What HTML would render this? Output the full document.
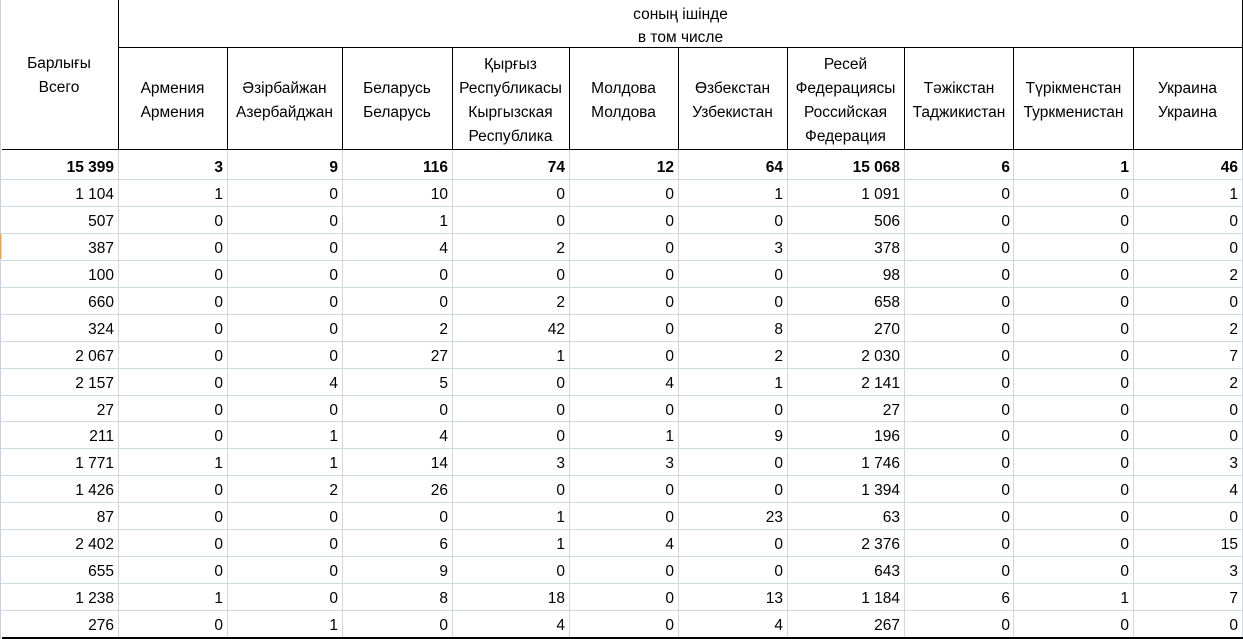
<!DOCTYPE html>
<html>
<head>
<meta charset="utf-8">
<style>
  html,body{margin:0;padding:0;background:#fff;}
  body{width:1243px;height:639px;position:relative;overflow:hidden;font-family:"Liberation Sans","DejaVu Sans",sans-serif;font-size:15.5px;color:#000;}
  .hc{position:absolute;display:flex;align-items:center;justify-content:center;text-align:center;line-height:24px;}
  .row{position:absolute;left:0;width:1243px;display:grid;grid-template-columns:118px 109px 115px 110px 117px 109px 109px 117px 110px 119px 109px;}
  .row div{text-align:right;padding-right:4px;box-sizing:border-box;white-space:nowrap;}
  .b{font-weight:bold;}
  svg{position:absolute;left:0;top:0;}
</style>
</head>
<body>
<svg width="1243" height="639" shape-rendering="crispEdges">
  <line x1="0.5" y1="0" x2="0.5" y2="639" stroke="#c6d0e2" stroke-width="1"/>
  <line x1="0.5" y1="233" x2="0.5" y2="259" stroke="#f2a541" stroke-width="2"/>
  <g stroke="#d0d7e5" stroke-width="1">
    <line x1="118.5" y1="149" x2="118.5" y2="637"/>
    <line x1="227.5" y1="149" x2="227.5" y2="637"/>
    <line x1="342.5" y1="149" x2="342.5" y2="637"/>
    <line x1="452.5" y1="149" x2="452.5" y2="637"/>
    <line x1="569.5" y1="149" x2="569.5" y2="637"/>
    <line x1="678.5" y1="149" x2="678.5" y2="637"/>
    <line x1="787.5" y1="149" x2="787.5" y2="637"/>
    <line x1="904.5" y1="149" x2="904.5" y2="637"/>
    <line x1="1013.5" y1="149" x2="1013.5" y2="637"/>
    <line x1="1133.5" y1="149" x2="1133.5" y2="637"/>
    <line x1="1242.5" y1="149" x2="1242.5" y2="637"/>
    <line x1="0" y1="179.5" x2="1243" y2="179.5"/>
    <line x1="0" y1="206.5" x2="1243" y2="206.5"/>
    <line x1="0" y1="233.5" x2="1243" y2="233.5"/>
    <line x1="0" y1="260.5" x2="1243" y2="260.5"/>
    <line x1="0" y1="287.5" x2="1243" y2="287.5"/>
    <line x1="0" y1="314.5" x2="1243" y2="314.5"/>
    <line x1="0" y1="341.5" x2="1243" y2="341.5"/>
    <line x1="0" y1="368.5" x2="1243" y2="368.5"/>
    <line x1="0" y1="395.5" x2="1243" y2="395.5"/>
    <line x1="0" y1="421.5" x2="1243" y2="421.5"/>
    <line x1="0" y1="448.5" x2="1243" y2="448.5"/>
    <line x1="0" y1="475.5" x2="1243" y2="475.5"/>
    <line x1="0" y1="502.5" x2="1243" y2="502.5"/>
    <line x1="0" y1="529.5" x2="1243" y2="529.5"/>
    <line x1="0" y1="556.5" x2="1243" y2="556.5"/>
    <line x1="0" y1="583.5" x2="1243" y2="583.5"/>
    <line x1="0" y1="610.5" x2="1243" y2="610.5"/>
  </g>
  <g stroke="#000" stroke-width="1">
    <line x1="118.5" y1="0" x2="118.5" y2="150"/>
    <line x1="1242.5" y1="0" x2="1242.5" y2="150"/>
    <line x1="118" y1="47.5" x2="1243" y2="47.5"/>
    <line x1="2" y1="149.5" x2="1243" y2="149.5"/>
    <line x1="227.5" y1="47" x2="227.5" y2="150"/>
    <line x1="342.5" y1="47" x2="342.5" y2="150"/>
    <line x1="452.5" y1="47" x2="452.5" y2="150"/>
    <line x1="569.5" y1="47" x2="569.5" y2="150"/>
    <line x1="678.5" y1="47" x2="678.5" y2="150"/>
    <line x1="787.5" y1="47" x2="787.5" y2="150"/>
    <line x1="904.5" y1="47" x2="904.5" y2="150"/>
    <line x1="1013.5" y1="47" x2="1013.5" y2="150"/>
    <line x1="1133.5" y1="47" x2="1133.5" y2="150"/>
  </g>
  <line x1="2" y1="638" x2="1243" y2="638" stroke="#000" stroke-width="2"/>
</svg>

<div class="hc" style="left:0;top:1px;width:118px;height:149px;">Барлығы<br>Всего</div>
<div class="hc" style="left:118px;top:3px;width:1125px;height:45px;line-height:23px;">соның ішінде<br>в том числе</div>
<div class="hc" style="left:118px;top:50px;width:109px;height:101px;">Армения<br>Армения</div>
<div class="hc" style="left:227px;top:50px;width:115px;height:101px;">Әзірбайжан<br>Азербайджан</div>
<div class="hc" style="left:342px;top:50px;width:110px;height:101px;">Беларусь<br>Беларусь</div>
<div class="hc" style="left:452px;top:50px;width:117px;height:101px;">Қырғыз<br>Республикасы<br>Кыргызская<br>Республика</div>
<div class="hc" style="left:569px;top:50px;width:109px;height:101px;">Молдова<br>Молдова</div>
<div class="hc" style="left:678px;top:50px;width:109px;height:101px;">Өзбекстан<br>Узбекистан</div>
<div class="hc" style="left:787px;top:50px;width:117px;height:101px;">Ресей<br>Федерациясы<br>Российская<br>Федерация</div>
<div class="hc" style="left:904px;top:50px;width:110px;height:101px;">Тәжікстан<br>Таджикистан</div>
<div class="hc" style="left:1014px;top:50px;width:119px;height:101px;">Түрікменстан<br>Туркменистан</div>
<div class="hc" style="left:1133px;top:50px;width:109px;height:101px;">Украина<br>Украина</div>

<div class="row b" style="top:154px;line-height:28px;"><div>15 399</div><div>3</div><div>9</div><div>116</div><div>74</div><div>12</div><div>64</div><div>15 068</div><div>6</div><div>1</div><div>46</div></div>
<div class="row" style="top:181px;line-height:27px;"><div>1 104</div><div>1</div><div>0</div><div>10</div><div>0</div><div>0</div><div>1</div><div>1 091</div><div>0</div><div>0</div><div>1</div></div>
<div class="row" style="top:208px;line-height:27px;"><div>507</div><div>0</div><div>0</div><div>1</div><div>0</div><div>0</div><div>0</div><div>506</div><div>0</div><div>0</div><div>0</div></div>
<div class="row" style="top:235px;line-height:27px;"><div>387</div><div>0</div><div>0</div><div>4</div><div>2</div><div>0</div><div>3</div><div>378</div><div>0</div><div>0</div><div>0</div></div>
<div class="row" style="top:262px;line-height:27px;"><div>100</div><div>0</div><div>0</div><div>0</div><div>0</div><div>0</div><div>0</div><div>98</div><div>0</div><div>0</div><div>2</div></div>
<div class="row" style="top:289px;line-height:27px;"><div>660</div><div>0</div><div>0</div><div>0</div><div>2</div><div>0</div><div>0</div><div>658</div><div>0</div><div>0</div><div>0</div></div>
<div class="row" style="top:316px;line-height:27px;"><div>324</div><div>0</div><div>0</div><div>2</div><div>42</div><div>0</div><div>8</div><div>270</div><div>0</div><div>0</div><div>2</div></div>
<div class="row" style="top:343px;line-height:27px;"><div>2 067</div><div>0</div><div>0</div><div>27</div><div>1</div><div>0</div><div>2</div><div>2 030</div><div>0</div><div>0</div><div>7</div></div>
<div class="row" style="top:370px;line-height:27px;"><div>2 157</div><div>0</div><div>4</div><div>5</div><div>0</div><div>4</div><div>1</div><div>2 141</div><div>0</div><div>0</div><div>2</div></div>
<div class="row" style="top:397px;line-height:27px;"><div>27</div><div>0</div><div>0</div><div>0</div><div>0</div><div>0</div><div>0</div><div>27</div><div>0</div><div>0</div><div>0</div></div>
<div class="row" style="top:423px;line-height:27px;"><div>211</div><div>0</div><div>1</div><div>4</div><div>0</div><div>1</div><div>9</div><div>196</div><div>0</div><div>0</div><div>0</div></div>
<div class="row" style="top:450px;line-height:27px;"><div>1 771</div><div>1</div><div>1</div><div>14</div><div>3</div><div>3</div><div>0</div><div>1 746</div><div>0</div><div>0</div><div>3</div></div>
<div class="row" style="top:477px;line-height:27px;"><div>1 426</div><div>0</div><div>2</div><div>26</div><div>0</div><div>0</div><div>0</div><div>1 394</div><div>0</div><div>0</div><div>4</div></div>
<div class="row" style="top:504px;line-height:27px;"><div>87</div><div>0</div><div>0</div><div>0</div><div>1</div><div>0</div><div>23</div><div>63</div><div>0</div><div>0</div><div>0</div></div>
<div class="row" style="top:531px;line-height:27px;"><div>2 402</div><div>0</div><div>0</div><div>6</div><div>1</div><div>4</div><div>0</div><div>2 376</div><div>0</div><div>0</div><div>15</div></div>
<div class="row" style="top:558px;line-height:27px;"><div>655</div><div>0</div><div>0</div><div>9</div><div>0</div><div>0</div><div>0</div><div>643</div><div>0</div><div>0</div><div>3</div></div>
<div class="row" style="top:585px;line-height:27px;"><div>1 238</div><div>1</div><div>0</div><div>8</div><div>18</div><div>0</div><div>13</div><div>1 184</div><div>6</div><div>1</div><div>7</div></div>
<div class="row" style="top:612px;line-height:27px;"><div>276</div><div>0</div><div>1</div><div>0</div><div>4</div><div>0</div><div>4</div><div>267</div><div>0</div><div>0</div><div>0</div></div>
</body>
</html>
